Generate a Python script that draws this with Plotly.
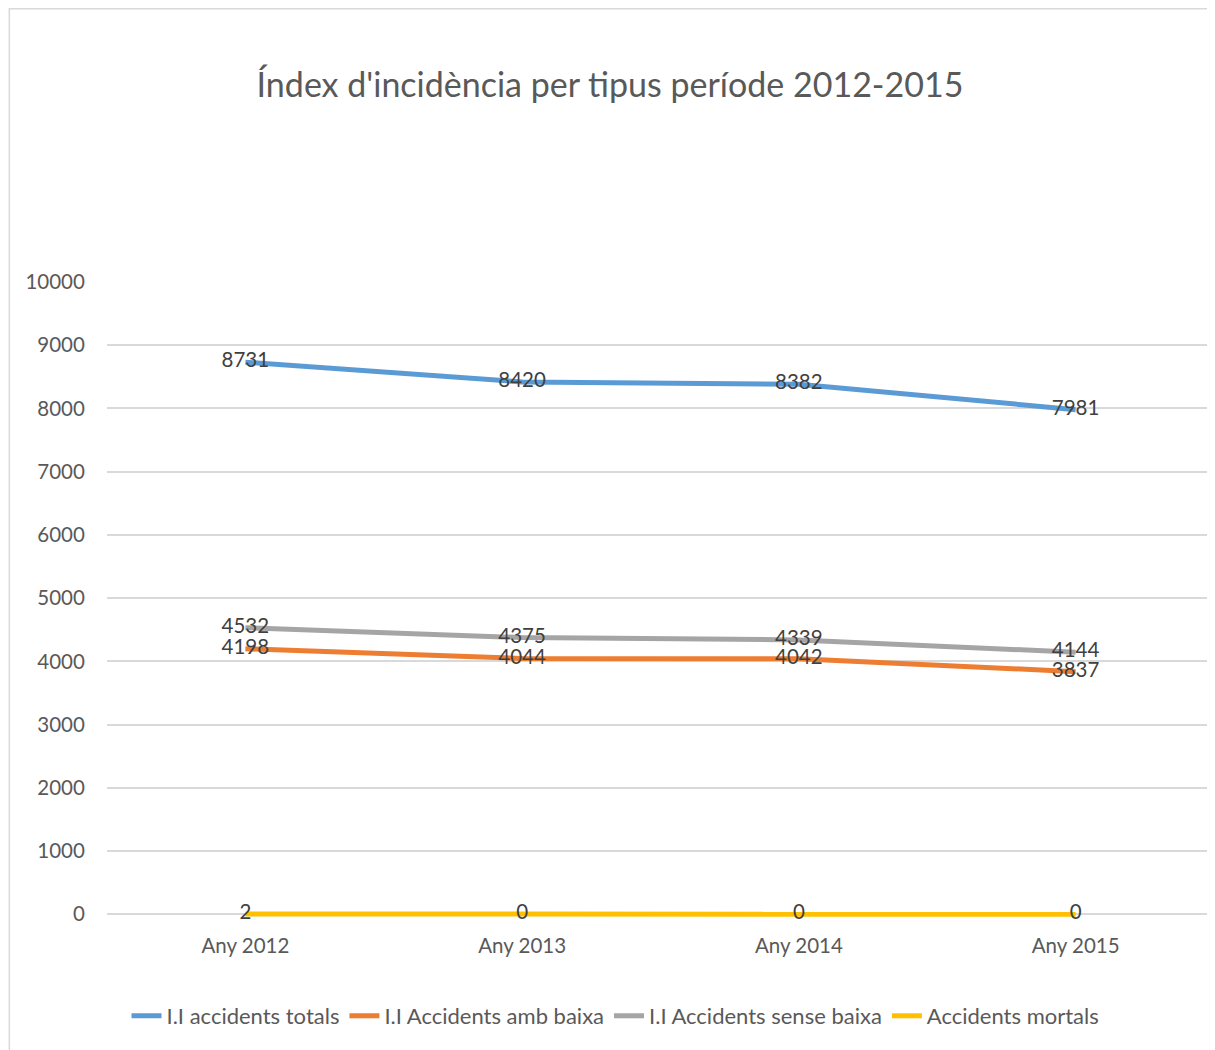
import plotly.graph_objects as go

categories = ["Any 2012", "Any 2013", "Any 2014", "Any 2015"]
series_names = ["I.I accidents totals", "I.I Accidents amb baixa", "I.I Accidents sense baixa", "Accidents mortals"]
totals = [8731, 8420, 8382, 7981]
amb_baixa = [4198, 4044, 4042, 3837]
sense_baixa = [4532, 4375, 4339, 4144]
mortals = [2, 0, 0, 0]
colors = ["#5B9BD5", "#ED7D31", "#A5A5A5", "#FFC000"]
y_ticks = [0, 1000, 2000, 3000, 4000, 5000, 6000, 7000, 8000, 9000, 10000]
y_tick_labels = [str(v) for v in y_ticks]

FONT = "Lato"
W, H = 1215, 1050
L, T = 98.5, 274.0
PW = 1108.0
YMIN, YMAX = -60, 10000
PH = 632.0 * (YMAX - YMIN) / 10000
B = H - (T + PH)
R = W - L - PW

fig = go.Figure()
for name, vals, col in zip(series_names, [totals, amb_baixa, sense_baixa, mortals], colors):
    fig.add_trace(go.Scatter(
        x=categories, y=vals, name=name, mode="lines+text",
        line=dict(color=col, width=5),
        text=[str(v) for v in vals], textposition="middle center",
        textfont=dict(family=FONT, size=20.5, color="#404040"),
        cliponaxis=False,
    ))

fig.update_layout(
    width=W, height=H,
    paper_bgcolor="white", plot_bgcolor="white",
    margin=dict(l=L, r=R, t=T, b=B, pad=0),
    title=dict(text="Índex d'incidència per tipus període 2012-2015",
               x=(610 - 8) / W, xref="container", xanchor="center", y=1 - 77 / H, yanchor="middle",
               font=dict(family=FONT, size=34, color="#595959")),
    font=dict(family=FONT, color="#595959"),
    xaxis=dict(type="category", showgrid=False, showline=False,
               ticks="outside", ticklen=9, tickcolor="rgba(0,0,0,0)",
               tickfont=dict(size=20.5, color="#595959"), range=[-0.5, 3.5]),
    yaxis=dict(range=[YMIN, YMAX], tickvals=y_ticks, ticktext=y_tick_labels,
               showgrid=True, gridcolor="#D9D9D9", gridwidth=1.5,
               zeroline=False, showline=False,
               ticks="outside", ticklen=17, tickcolor="rgba(0,0,0,0)",
               tickfont=dict(size=20.5, color="#595959")),
    legend=dict(orientation="h", x=0.5, xref="container", xanchor="center", y=1 - 1008 / H,
                yref="container", yanchor="middle",
                font=dict(family=FONT, size=22, color="#595959"), itemwidth=30),
    showlegend=True,
)
fig.add_shape(type="rect", xref="paper", yref="paper",
              x0=(0.75 - L) / PW, x1=(W + 20 - L) / PW,
              y0=(T + PH - (H + 20)) / PH, y1=(T + PH - 0.75) / PH,
              line=dict(color="#D9D9D9", width=1.5), fillcolor="rgba(0,0,0,0)", layer="below")
fig.write_html("out.html")
